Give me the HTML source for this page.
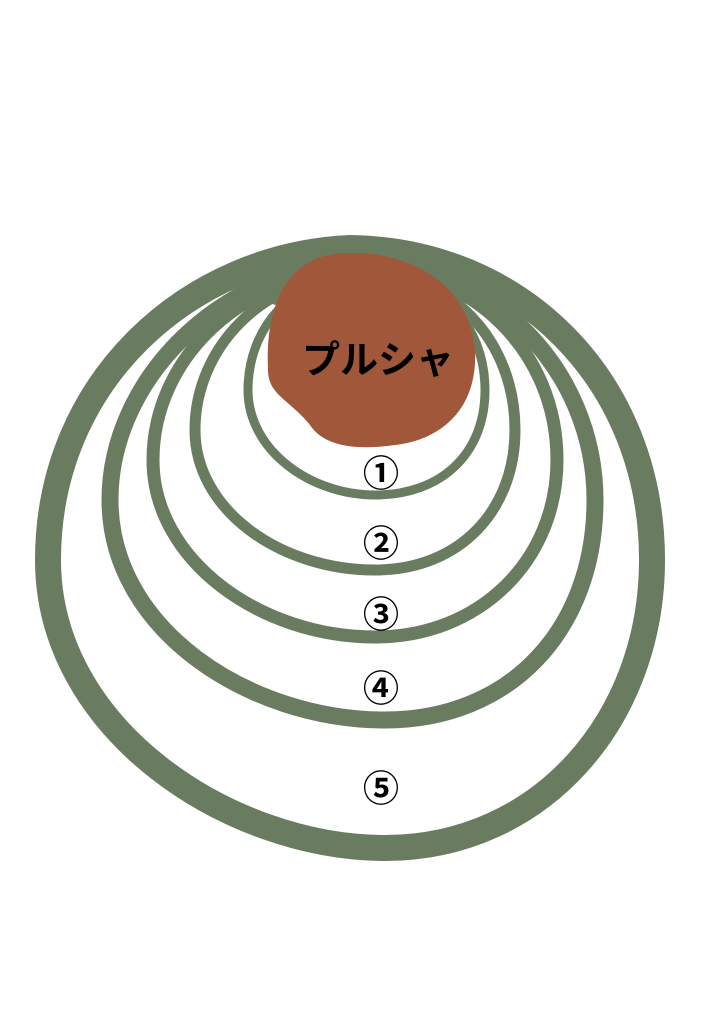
<!DOCTYPE html>
<html><head><meta charset="utf-8"><style>
html,body{margin:0;padding:0;background:#fff;}
svg{display:block;}
text{font-family:"Liberation Sans","Noto Sans CJK JP",sans-serif;font-weight:bold;fill:#000;}
</style></head><body>
<svg width="723" height="1023" viewBox="0 0 723 1023" xmlns="http://www.w3.org/2000/svg">
<g fill="none" stroke="#6a7c60" stroke-linejoin="round">
<path stroke-width="26" d="M350 248 C190 255 48 380 48 560 C48 730 230 848 385 848 C540 848 652 720 652 560 C652 380 520 250 350 248Z"/>
<path stroke-width="17" d="M360 262 C220 268 110 380 110 500 C110 630 250 720 385 720 C510 720 595 630 595 500 C595 370 490 262 360 262Z"/>
<path stroke-width="13" d="M365 268 C240 272 153 360 153 460 C153 560 260 637 375 637 C480 637 557 560 557 460 C557 350 470 268 365 268Z"/>
<path stroke-width="11" d="M365 272 C260 275 195 350 195 430 C195 510 280 570 375 570 C460 570 515 510 515 430 C515 340 450 272 365 272Z"/>
<path stroke-width="9" d="M365 275 C290 275 248 330 248 390 C248 450 310 495 375 495 C440 495 485 455 485 390 C485 325 440 275 365 275Z"/>
</g>
<path fill="#6a7c60" d="M262 300 C295 262 335 252 365 252 C425 255 480 280 525 322 L505 335 C475 303 440 283 365 277 C325 277 295 287 275 305 Z"/>
<path fill="#a0573a" d="M345 253 C410 250 470 285 475 350 C478 410 440 440 395 445 C360 450 325 448 310 425 C290 400 268 395 268 370 C265 300 290 255 345 253Z"/>
<text x="378" y="373" font-size="38" text-anchor="middle">プルシャ</text>
<g font-size="36" text-anchor="middle">
<text x="381" y="486">①</text>
<text x="381" y="556">②</text>
<text x="381" y="627">③</text>
<text x="381" y="701">④</text>
<text x="381" y="801">⑤</text>
</g>
</svg>
</body></html>
